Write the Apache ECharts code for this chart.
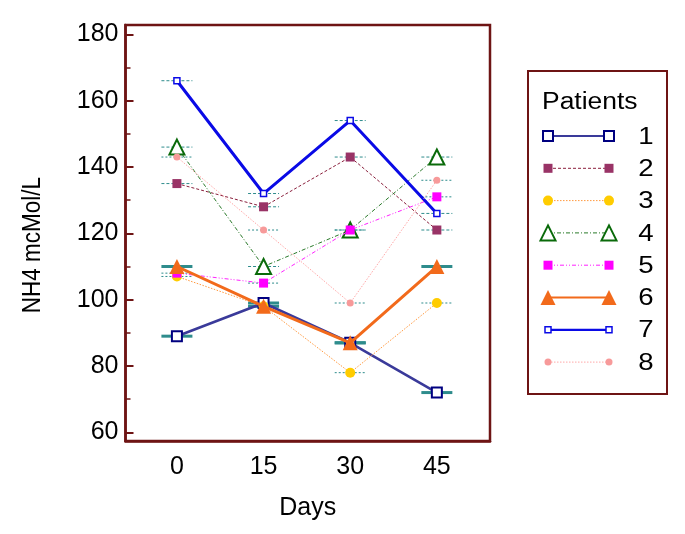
<!DOCTYPE html>
<html>
<head>
<meta charset="utf-8">
<script src="https://cdn.jsdelivr.net/npm/echarts@6/dist/echarts.min.js"></script>
<style>html,body{margin:0;padding:0;background:#fff;}#c{width:685px;height:534px;}</style>
</head>
<body>
<div id="c"></div>
<script>
// ---- data ----
const days = [0, 15, 30, 45];
const patientNames = ['1', '2', '3', '4', '5', '6', '7', '8'];
const patient1 = [89, 99, 87, 72];
const patient2 = [135, 128, 143, 121];
const patient3 = [107, 98, 78, 99];
const patient4 = [146, 110, 121, 143];
const patient5 = [108, 105, 121, 131];
const patient6 = [110, 98, 87, 110];
const patient7 = [166, 132, 154, 126];
const patient8 = [143, 121, 99, 136];
const yTickLabels = [60, 80, 100, 120, 140, 160, 180];
const yMinorTicks = [70, 90, 110, 130, 150, 170];
const xTickLabels = [0, 15, 30, 45];

const values = [patient1, patient2, patient3, patient4, patient5, patient6, patient7, patient8];

// ---- styles ----
const styles = [
  {line: '#3a3a9a', width: 2.6, dash: 'solid', symbol: 'rect', size: 10, fill: '#ffffff', border: '#000080', bw: 2, capW: 3, capDash: 'solid'},
  {line: '#8a1f3c', width: 1, dash: [3, 2], symbol: 'rect', size: 9, fill: '#993366', border: '#993366', bw: 0, capW: 1, capDash: [3, 2]},
  {line: '#ff9a40', width: 1, dash: [1.5, 1.5], symbol: 'circle', size: 10, fill: '#ffcc00', border: '#ffcc00', bw: 0, capW: 1, capDash: [2, 2]},
  {line: '#2a7a2a', width: 1, dash: [4, 2, 1, 2], symbol: 'triangle', size: 15, fill: '#ffffff', border: '#0a6a0a', bw: 2, capW: 1, capDash: [3, 2]},
  {line: '#ff22ff', width: 1, dash: [4, 2, 1, 2, 1, 2], symbol: 'rect', size: 9, fill: '#ff00ff', border: '#ff00ff', bw: 0, capW: 1, capDash: [2, 2]},
  {line: '#f26a1b', width: 3, dash: 'solid', symbol: 'triangle', size: 15, fill: '#f26a1b', border: '#f26a1b', bw: 0, capW: 3, capDash: 'solid'},
  {line: '#0a0ae6', width: 3, dash: 'solid', symbol: 'rect', size: 6, fill: '#ffffff', border: '#0a0ae6', bw: 1.5, capW: 1, capDash: [3, 2]},
  {line: '#ffa8a8', width: 1, dash: [1.5, 1.5], symbol: 'circle', size: 7, fill: '#f79a9a', border: '#f79a9a', bw: 0, capW: 1, capDash: [2, 2]}
];
const capColor = '#2e8c8c';
const frameColor = '#6e1414';
const FONT = '"Liberation Sans", Arial, sans-serif';
const STRETCH = 1.15;

const lineSeries = values.map((v, i) => ({
  type: 'line',
  name: patientNames[i],
  data: days.map((d, j) => [d, v[j]]),
  symbol: styles[i].symbol,
  symbolSize: styles[i].size,
  showAllSymbol: true,
  lineStyle: {color: styles[i].line, width: styles[i].width, type: styles[i].dash},
  itemStyle: {color: styles[i].fill, borderColor: styles[i].border, borderWidth: styles[i].bw},
  z: 3 + i * 0.01,
  animation: false
}));

const capSeries = values.map((v, i) => ({
  type: 'custom',
  name: 'cap' + patientNames[i],
  data: days.map((d, j) => [d, v[j]]),
  z: 2,
  animation: false,
  renderItem: (params, api) => {
    const p = api.coord([api.value(0), api.value(1)]);
    return {
      type: 'line',
      shape: {x1: p[0] - 15.5, y1: p[1], x2: p[0] + 15.5, y2: p[1]},
      style: {stroke: capColor, lineWidth: styles[i].capW, lineDash: styles[i].capDash === 'solid' ? null : styles[i].capDash}
    };
  }
}));

// ---- legend (graphic) ----
const LX = 528, LY = 71, LW = 139, LH = 323;
const legendEls = [
  {type: 'rect', shape: {x: LX, y: LY, width: LW, height: LH}, style: {fill: '#fff', stroke: frameColor, lineWidth: 2}},
  {type: 'text', x: 542, y: 103, scaleX: STRETCH, style: {text: 'Patients', font: '23px ' + FONT, fill: '#000', textVerticalAlign: 'middle'}},
  {type: 'text', x: 33, y: 245, rotation: Math.PI / 2, scaleY: STRETCH, style: {text: 'NH4 mcMol/L', font: '22.5px ' + FONT, fill: '#000', textAlign: 'center', textVerticalAlign: 'middle'}}
];
function legendSymbol(s, cx, cy) {
  const sz = s.size;
  const style = {fill: s.fill, stroke: s.bw ? s.border : null, lineWidth: s.bw};
  if (s.symbol === 'rect') return {type: 'rect', shape: {x: cx - sz / 2, y: cy - sz / 2, width: sz, height: sz}, style};
  if (s.symbol === 'circle') return {type: 'circle', shape: {cx, cy, r: sz / 2}, style};
  return {type: 'polygon', shape: {points: [[cx, cy - sz / 2], [cx + sz / 2, cy + sz / 2], [cx - sz / 2, cy + sz / 2]]}, style};
}
patientNames.forEach((n, i) => {
  const s = styles[i];
  const cy = 136 + i * 32.3;
  legendEls.push({type: 'line', shape: {x1: 548, y1: cy, x2: 609, y2: cy},
    style: {stroke: s.line, lineWidth: Math.min(s.width, 2.2), lineDash: s.dash === 'solid' ? null : s.dash}});
  legendEls.push(legendSymbol(s, 548, cy));
  legendEls.push(legendSymbol(s, 609, cy));
  legendEls.push({type: 'text', x: 646, y: cy + 1, scaleX: STRETCH, style: {text: n, font: '24px ' + FONT, fill: '#000', textAlign: 'center', textVerticalAlign: 'middle'}});
});

const chart = echarts.init(document.getElementById('c'), null, {renderer: 'canvas'});
chart.setOption({
  animation: false,
  backgroundColor: '#fff',
  textStyle: {fontFamily: FONT},
  grid: {left: 125.5, right: 195, top: 25, bottom: 93, show: true, borderColor: frameColor, borderWidth: 2.5, containLabel: false},
  xAxis: {
    type: 'value', min: -8.9, max: 54.2,
    name: 'Days', nameLocation: 'middle', nameGap: 55,
    nameTextStyle: {fontSize: 25, color: '#000', fontFamily: FONT},
    axisLine: {show: true, onZero: false, lineStyle: {color: frameColor, width: 2.5}},
    axisTick: {show: false},
    splitLine: {show: false},
    axisLabel: {customValues: xTickLabels, fontSize: 25, color: '#000', margin: 14, fontFamily: FONT}
  },
  yAxis: [{
    type: 'value', min: 57.4, max: 182.8,
    axisLine: {show: true, onZero: false, lineStyle: {color: frameColor, width: 2.5}},
    axisTick: {show: true, inside: true, length: 8, customValues: yTickLabels, lineStyle: {color: frameColor, width: 2}},
    splitLine: {show: false},
    axisLabel: {customValues: yTickLabels, fontSize: 25, color: '#000', margin: 7, fontFamily: FONT}
  }, {
    type: 'value', min: 57.4, max: 182.8, position: 'left',
    axisLine: {show: false, onZero: false},
    axisTick: {show: true, inside: true, length: 5, customValues: yMinorTicks, lineStyle: {color: frameColor, width: 1.5}},
    splitLine: {show: false},
    axisLabel: {show: false}
  }],
  series: capSeries.concat(lineSeries),
  graphic: legendEls
});
</script>
</body>
</html>
